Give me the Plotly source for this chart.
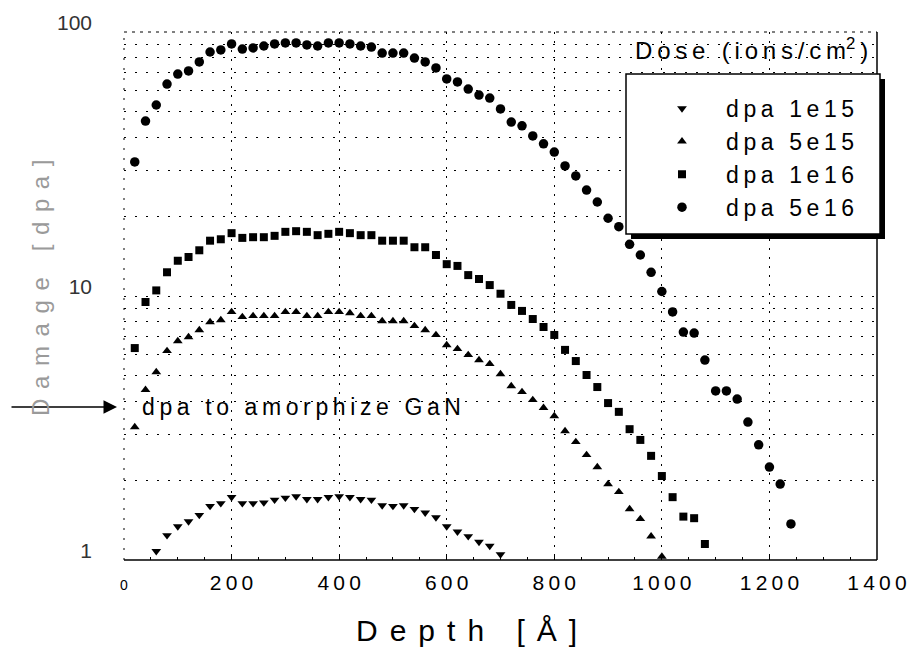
import math
import plotly.graph_objects as go

# ---------------- data ----------------
depth_1e15 = [60, 80, 100, 120, 140, 160, 180, 200, 220, 240, 260, 280, 300, 320, 340, 360, 380,
              400, 420, 440, 460, 480, 500, 520, 540, 560, 580, 600, 620, 640, 660, 680, 700]
dpa_1e15 = [1.08, 1.24, 1.34, 1.40, 1.48, 1.60, 1.64, 1.73, 1.64, 1.64, 1.65, 1.69, 1.72, 1.74, 1.70,
            1.70, 1.73, 1.74, 1.73, 1.70, 1.69, 1.61, 1.60, 1.61, 1.56, 1.51, 1.45, 1.34, 1.28, 1.23,
            1.17, 1.13, 1.05]

depth_5e15 = [20, 40, 60, 80, 100, 120, 140, 160, 180, 200, 220, 240, 260, 280, 300, 320, 340, 360,
              380, 400, 420, 440, 460, 480, 500, 520, 540, 560, 580, 600, 620, 640, 660, 680, 700,
              720, 740, 760, 780, 800, 820, 840, 860, 880, 900, 920, 940, 960, 980, 1000]
dpa_5e15 = [3.19, 4.41, 5.15, 6.19, 6.75, 6.99, 7.43, 7.97, 8.11, 8.70, 8.33, 8.40, 8.40, 8.40, 8.70,
            8.70, 8.40, 8.40, 8.70, 8.70, 8.62, 8.40, 8.40, 8.04, 8.04, 8.04, 7.70, 7.43, 7.12, 6.52,
            6.30, 5.98, 5.72, 5.53, 5.06, 4.56, 4.33, 4.04, 3.77, 3.51, 3.08, 2.80, 2.50, 2.25, 1.94,
            1.81, 1.56, 1.43, 1.23, 1.03]

depth_1e16 = [20, 40, 60, 80, 100, 120, 140, 160, 180, 200, 220, 240, 260, 280, 300, 320, 340, 360,
              380, 400, 420, 440, 460, 480, 500, 520, 540, 560, 580, 600, 620, 640, 660, 680, 700,
              720, 740, 760, 780, 800, 820, 840, 860, 880, 900, 920, 940, 960, 980, 1000, 1020,
              1040, 1060, 1080]
dpa_1e16 = [6.35, 9.49, 10.5, 12.3, 13.6, 14.05, 14.9, 16.2, 16.4, 17.3, 16.6, 16.7, 16.7, 16.9, 17.5,
            17.6, 17.5, 17.0, 17.2, 17.5, 17.3, 17.0, 17.0, 16.2, 16.2, 16.2, 15.3, 15.3, 14.3, 13.2,
            13.0, 12.0, 11.6, 11.0, 10.2, 9.25, 8.78, 8.18, 7.63, 7.12, 6.25, 5.67, 5.02, 4.52, 3.93,
            3.64, 3.13, 2.85, 2.48, 2.08, 1.73, 1.46, 1.44, 1.15]

depth_5e16 = [20, 40, 60, 80, 100, 120, 140, 160, 180, 200, 220, 240, 260, 280, 300, 320, 340, 360,
              380, 400, 420, 440, 460, 480, 500, 520, 540, 560, 580, 600, 620, 640, 660, 680, 700,
              720, 740, 760, 780, 800, 820, 840, 860, 880, 900, 920, 940, 960, 980, 1000, 1020,
              1040, 1060, 1080, 1100, 1120, 1140, 1160, 1180, 1200, 1220, 1240]
dpa_5e16 = [32.2, 46.0, 52.9, 63.5, 69.3, 71.2, 77.0, 84.0, 85.5, 90.1, 86.2, 87.0, 88.5, 90.1, 90.9,
            90.9, 89.3, 88.5, 90.9, 90.9, 90.1, 88.5, 87.7, 83.2, 83.2, 83.2, 79.7, 77.0, 73.1, 66.4,
            64.7, 60.8, 57.7, 56.2, 51.1, 45.6, 44.1, 40.4, 37.7, 35.1, 31.1, 28.5, 25.2, 22.7, 19.7,
            18.3, 15.7, 14.3, 12.3, 10.4, 8.7, 7.3, 7.24, 5.72, 4.37, 4.37, 4.07, 3.33, 2.73, 2.25,
            1.94, 1.37]

series_names = ["dpa 1e15", "dpa 5e15", "dpa 1e16", "dpa 5e16"]
x_ticks = [0, 200, 400, 600, 800, 1000, 1200, 1400]
y_ticks = [1, 10, 100]
y_minor = [2, 3, 4, 5, 6, 7, 8, 9, 20, 30, 40, 50, 60, 70, 80, 90]
amorph_dpa = 3.8
amorph_label = "dpa to amorphize GaN"
legend_title = "Dose (ions/cm"
x_title = "Depth [Å]"
y_title = "Damage [dpa]"

# ---------------- layout helpers ----------------
# the page body has an 8px margin, so the figure is drawn 8px smaller and
# all helper coordinates below are page pixels of the 916x665 window
OFF = 8
W, H = 916 - OFF, 665 - OFF
PL, PR, PT, PB = 124, 877, 32, 560          # plot area in page pixels
PW, PH = PR - PL, PB - PT
L, T = PL - OFF, PT - OFF
R, B = W - (L + PW), H - (T + PH)
FONT = "Liberation Sans, Arial, sans-serif"


def sp(s, gap="\u2009"):
    return gap.join(s)


def pxx(p):
    return (p - PL) / PW


def pxy(p):
    return (PB - p) / PH


fig = go.Figure()
specs = [
    (depth_1e15, dpa_1e15, "triangle-down", 8.5),
    (depth_5e15, dpa_5e15, "triangle-up", 8.5),
    (depth_1e16, dpa_1e16, "square", 8),
    (depth_5e16, dpa_5e16, "circle", 9.5),
]
for i, (name, (xs, ys, sym, size)) in enumerate(zip(series_names, specs)):
    fig.add_trace(go.Scatter(
        x=xs, y=ys, mode="markers", name=sp(name), legendgroup="g%d" % i,
        marker=dict(symbol=sym, size=size, color="black"),
        cliponaxis=False,
    ))

all_y = y_ticks + y_minor
fig.update_xaxes(
    range=[0, 1400], tickvals=x_ticks,
    ticktext=["<span style='font-size:14px'>0</span>"] + [sp(str(v)) for v in x_ticks[1:]],
    showgrid=True, gridcolor="black", gridwidth=1, griddash="2px,7px",
    ticks="inside", ticklen=6, tickcolor="black", ticklabelstandoff=8,
    minor=dict(dtick=50, ticks="inside", ticklen=3, tickcolor="black", showgrid=False),
    tickfont=dict(family=FONT, size=21, color="black"),
    showline=False, zeroline=False, automargin=False,
)
fig.update_yaxes(
    type="log", range=[0, 2], tickvals=all_y,
    ticktext=[str(v) for v in y_ticks] + [""] * len(y_minor),
    showgrid=True, gridcolor="black", gridwidth=1, griddash="2px,9px",
    ticks="", ticklabelstandoff=31, ticklabelshift=-9,
    tickfont=dict(family=FONT, size=21, color="#333"),
    showline=False, zeroline=False, automargin=False,
)

shapes = [
    # frame
    dict(type="line", xref="paper", yref="paper", x0=0, x1=1, y0=0, y1=0,
         line=dict(color="black", width=1.5)),
    dict(type="line", xref="paper", yref="paper", x0=1, x1=1, y0=0, y1=1,
         line=dict(color="black", width=1.5)),
    dict(type="line", xref="paper", yref="paper", x0=0, x1=1, y0=1, y1=1,
         line=dict(color="black", width=1, dash="3px,5px")),
    dict(type="line", xref="paper", yref="paper", x0=0, x1=0, y0=0, y1=1,
         line=dict(color="black", width=1, dash="2px,8px")),
    # legend shadow and box
    dict(type="rect", xref="paper", yref="paper", layer="above",
         x0=pxx(631), x1=pxx(885), y0=pxy(239), y1=pxy(79),
         fillcolor="black", line=dict(width=0)),
    dict(type="rect", xref="paper", yref="paper", layer="above",
         x0=pxx(626), x1=pxx(880), y0=pxy(234), y1=pxy(74),
         fillcolor="white", line=dict(color="black", width=1.5)),
]

annotations = [
    dict(xref="paper", yref="paper", x=pxx(751), y=pxy(49), xanchor="center", yanchor="middle",
         showarrow=False, text=sp(legend_title) + "<sup>2</sup>\u2009)",
         font=dict(family=FONT, size=24, color="black")),
    dict(xref="paper", yref="y", x=pxx(140), y=math.log10(amorph_dpa), xanchor="left",
         yanchor="middle", showarrow=False,
         text=sp(amorph_label), font=dict(family=FONT, size=23, color="black")),
    dict(xref="paper", yref="y", x=pxx(117), y=math.log10(amorph_dpa), text="", showarrow=True,
         ax=-107, ay=0, arrowhead=2, arrowsize=1.8, arrowwidth=1.5, arrowcolor="black"),
    dict(xref="paper", yref="paper", x=pxx(40), y=pxy(288), xanchor="center", yanchor="middle",
         showarrow=False, textangle=-90,
         text=sp(y_title, "\u2009\u2009"), font=dict(family=FONT, size=24, color="#9a9a9a")),
    # x-axis title (sits left of the plot centre in the reference)
    dict(xref="paper", yref="paper", x=pxx(466), y=pxy(630), xanchor="center", yanchor="middle",
         showarrow=False, text=sp(x_title, "\u2009\u2009"),
         font=dict(family=FONT, size=30, color="black")),
]

fig.update_layout(
    width=W, height=H, autosize=False,
    margin=dict(l=L, r=R, t=T, b=B, pad=0),
    paper_bgcolor="white", plot_bgcolor="white",
    shapes=shapes, annotations=annotations,
    showlegend=True,
    legend=dict(x=pxx(638), y=pxy(87), xanchor="left", yanchor="top",
                bgcolor="rgba(0,0,0,0)", borderwidth=0, itemwidth=78,
                tracegroupgap=0,
                font=dict(family=FONT, size=23, color="black")),
)

fig.write_html("out.html")
